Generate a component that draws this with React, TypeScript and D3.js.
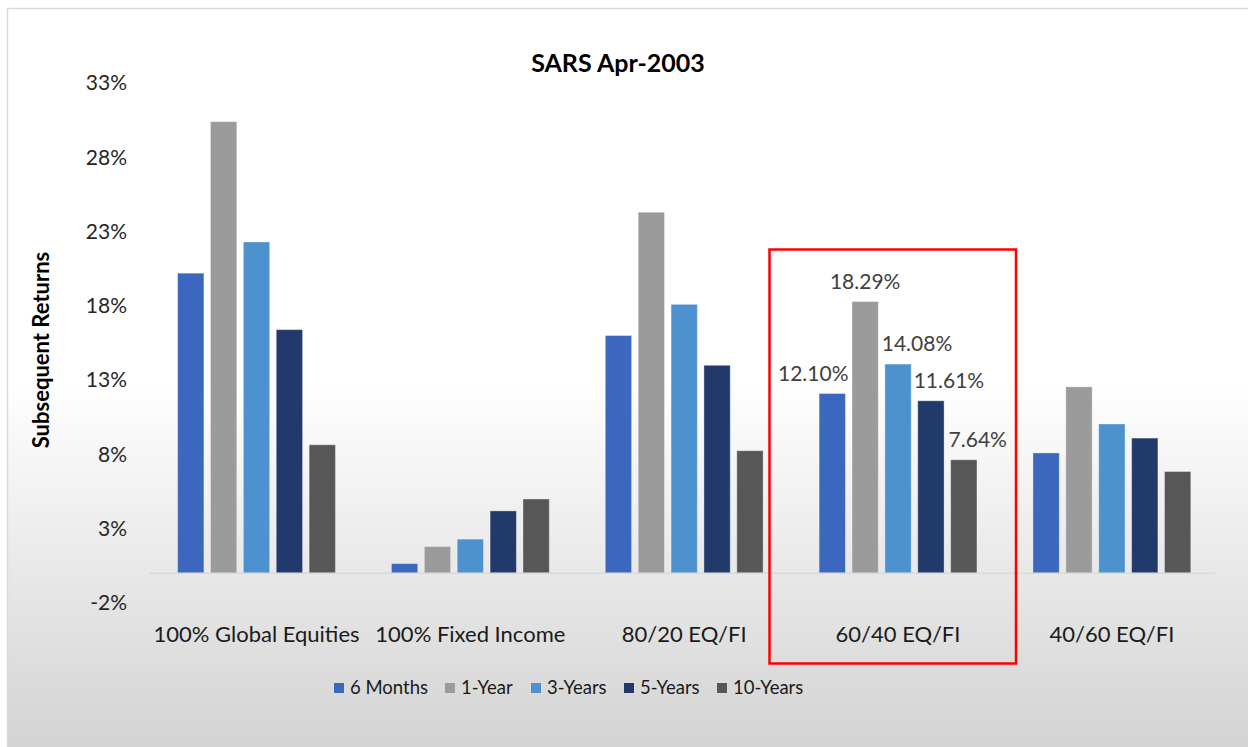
import React from 'react';
import * as d3 from 'd3';

const categories = ['100% Global Equities', '100% Fixed Income', '80/20 EQ/FI', '60/40 EQ/FI', '40/60 EQ/FI'];
const seriesNames = ['6 Months', '1-Year', '3-Years', '5-Years', '10-Years'];
const seriesColors = ['#3b67be', '#9b9b9b', '#4e91cf', '#213a6b', '#575757'];

// returns (%) per series, one value per category
const sixMonths = [20.2, 0.65, 16.0, 12.10, 8.1];
const oneYear = [30.4, 1.8, 24.3, 18.29, 12.55];
const threeYears = [22.3, 2.3, 18.1, 14.08, 10.05];
const fiveYears = [16.4, 4.2, 14.0, 11.61, 9.1];
const tenYears = [8.65, 5.0, 8.25, 7.64, 6.85];

const seriesValues = [sixMonths, oneYear, threeYears, fiveYears, tenYears];
const yTicks = [-2, 3, 8, 13, 18, 23, 28, 33];
const labelledCategory = '60/40 EQ/FI';
// nudges of the data labels as placed in the original
const labelDx = [-19, 0, 19, 18, 14];

const W = 1248;
const H = 747;
const FONT = 'Lato, "Noto Sans", sans-serif';

const App: React.FC = () => {
  const x = d3.scaleBand<string>().domain(categories).range([149.6, 1218.8]);
  const inner = d3.scaleBand<string>().domain(seriesNames).range([28, x.bandwidth() - 28]).paddingInner(0.2);
  const y = d3.scaleLinear().domain([-2, 33]).range([603, 83]);
  const zero = y(0);

  const legendX = [334, 445, 531, 624, 717];

  return (
    <div style={{ position: 'fixed', left: 0, top: 0, width: W, height: H }}>
      <svg width={W} height={H} style={{ display: 'block', fontFamily: FONT }}>
        <defs>
          <linearGradient id="bg" x1="0" y1="0" x2="0" y2="1">
            <stop offset="0" stopColor="#ffffff" />
            <stop offset="0.5" stopColor="#ffffff" />
            <stop offset="1" stopColor="#d2d2d2" />
          </linearGradient>
        </defs>
        <rect x={0} y={0} width={W} height={H} fill="#ffffff" />
        <rect x={7.5} y={8.5} width={W + 10} height={H} fill="url(#bg)" stroke="#d9d9d9" strokeWidth={1.5} />

        <text x={618} y={63} dy="0.35em" textAnchor="middle" fontSize={25} fontWeight={700} fill="#000">SARS Apr-2003</text>

        <text transform="translate(49,350) rotate(-90)" textAnchor="middle" fontSize={22} fontWeight={700} fill="#000">
          Subsequent Returns
        </text>

        {yTicks.map(t => (
          <text key={t} x={127} y={y(t)} dy="0.35em" textAnchor="end" fontSize={21} fill="#262626">
            {t}%
          </text>
        ))}

        {categories.map((c, ci) => (
          <g key={c} transform={`translate(${x(c)},0)`}>
            {seriesNames.map((s, si) => {
              const v = seriesValues[si][ci];
              const top = y(Math.max(0, v));
              return (
                <rect
                  key={s}
                  x={inner(s)}
                  y={top}
                  width={inner.bandwidth()}
                  height={Math.abs(y(v) - zero)}
                  fill={seriesColors[si]}
                  stroke="#ffffff"
                  strokeOpacity={0.35}
                  strokeWidth={1}
                />
              );
            })}
            {c === labelledCategory && seriesNames.map((s, si) => {
              const v = seriesValues[si][ci];
              return (
                <text
                  key={s}
                  x={(inner(s) || 0) + inner.bandwidth() / 2 + labelDx[si]}
                  y={y(v) - 20}
                  dy="0.35em"
                  textAnchor="middle"
                  fontSize={21}
                  fill="#404040"
                >
                  {v.toFixed(2)}%
                </text>
              );
            })}
            <text x={x.bandwidth() / 2} y={634} dy="0.35em" textAnchor="middle" fontSize={22} fill="#1a1a1a">
              {c}
            </text>
          </g>
        ))}

        <line x1={149.6} x2={1215} y1={zero} y2={zero} stroke="#d9d9d9" strokeWidth={1.5} />

        <rect x={769.5} y={249.5} width={246.5} height={414} fill="none" stroke="#ff0000" strokeWidth={2.5} />

        {seriesNames.map((s, si) => (
          <g key={s} transform={`translate(${legendX[si]},688)`}>
            <rect x={0} y={-5} width={10} height={10} fill={seriesColors[si]} />
            <text x={16} y={0} dy="0.35em" fontSize={18.5} fill="#1a1a1a">{s}</text>
          </g>
        ))}
      </svg>
    </div>
  );
};

export default App;
